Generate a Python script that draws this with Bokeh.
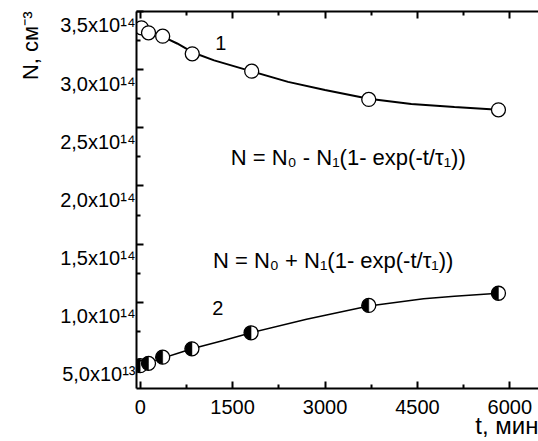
import math
from bokeh.plotting import figure
from bokeh.models import FixedTicker, LinearAxis, Label, Range1d, Title
from bokeh.embed import file_html
from bokeh.resources import INLINE

# ---- data ----
t1 = [20, 135, 365, 845, 1810, 3710, 5815]
n1 = [3.36e14, 3.317e14, 3.288e14, 3.136e14, 2.987e14, 2.744e14, 2.655e14]
t2 = [0, 135, 365, 840, 1800, 3710, 5815]
n2 = [0.455e14, 0.475e14, 0.528e14, 0.600e14, 0.738e14, 0.973e14, 1.078e14]

fit1_t = [20, 200, 400, 600, 845, 1200, 1810, 2400, 3000, 3710, 4400, 5100, 5815]
fit1_n = [3.355e14, 3.32e14, 3.275e14, 3.225e14, 3.15e14, 3.08e14, 2.985e14,
          2.895e14, 2.825e14, 2.75e14, 2.705e14, 2.678e14, 2.655e14]
fit2_t = [0, 135, 365, 600, 840, 1350, 1800, 2700, 3710, 4600, 5100, 5815]
fit2_n = [0.455e14, 0.475e14, 0.52e14, 0.56e14, 0.60e14, 0.672e14, 0.738e14,
          0.855e14, 0.968e14, 1.03e14, 1.052e14, 1.078e14]

x_ticks = [0, 1500, 3000, 4500, 6000]
x_minor = [750, 2250, 3750, 5250]
y_ticks = [0.5e14, 1.0e14, 1.5e14, 2.0e14, 2.5e14, 3.0e14, 3.5e14]
y_minor = [0.75e14, 1.25e14, 1.75e14, 2.25e14, 2.75e14, 3.25e14]
y_tick_labels = ["5,0x10¹³", "1,0x10¹⁴", "1,5x10¹⁴", "2,0x10¹⁴",
                 "2,5x10¹⁴", "3,0x10¹⁴", "3,5x10¹⁴"]

FONT = "Liberation Sans"
Y0, Y1 = 0.259e14, 3.5e14
LABEL_SHIFT = 0.12e14   # tick labels sit a little below their ticks

p = figure(width=538, height=441,
           x_range=Range1d(-60, 6465), y_range=Range1d(Y0, Y1),
           output_backend="svg", toolbar_location=None,
           min_border_left=133, min_border_right=0,
           min_border_top=11, min_border_bottom=53)
p.grid.visible = False
p.outline_line_color = None
p.background_fill_color = "white"
p.border_fill_color = "white"
p.extra_y_ranges = {"lab": Range1d(Y0 + LABEL_SHIFT, Y1 + LABEL_SHIFT)}

def style_axis(ax):
    ax.axis_line_width = 2
    ax.major_tick_in = 7
    ax.major_tick_out = 0
    ax.minor_tick_in = 4
    ax.minor_tick_out = 0
    ax.major_tick_line_width = 2
    ax.minor_tick_line_width = 2
    ax.major_label_text_font = FONT
    ax.major_label_text_font_size = "20px"
    ax.major_label_text_color = "black"
    ax.axis_line_color = "black"
    ax.major_tick_line_color = "black"
    ax.minor_tick_line_color = "black"

xax = p.xaxis[0]
xax.ticker = FixedTicker(ticks=x_ticks, minor_ticks=x_minor)
style_axis(xax)
xax.major_label_standoff = 11

# left axis: line and ticks only
yax = p.yaxis[0]
yax.ticker = FixedTicker(ticks=y_ticks, minor_ticks=y_minor)
style_axis(yax)
yax.major_label_overrides = {v: "" for v in y_ticks}
yax.major_label_standoff = 0

# left labels (slightly lowered, as in the original)
ylab = LinearAxis(y_range_name="lab", ticker=FixedTicker(ticks=y_ticks, minor_ticks=[]))
style_axis(ylab)
ylab.axis_line_color = None
ylab.major_tick_line_color = None
ylab.minor_tick_line_color = None
ylab.major_label_overrides = {v: s for v, s in zip(y_ticks, y_tick_labels)}
ylab.major_label_standoff = 1
p.add_layout(ylab, "left")

# top frame line with inner ticks
top = LinearAxis(ticker=FixedTicker(ticks=x_ticks, minor_ticks=x_minor))
style_axis(top)
top.major_label_overrides = {v: "" for v in x_ticks}
top.major_label_standoff = 0
p.add_layout(top, "above")

# fit curves
p.line(fit1_t, fit1_n, line_color="black", line_width=2)
p.line(fit2_t, fit2_n, line_color="black", line_width=1.5)

# series 1: open circles
p.scatter(t1, n1, marker="circle", size=14, fill_color="white",
          line_color="black", line_width=1.3)
# series 2: half-filled circles
p.scatter(t2, n2, marker="circle", size=14, fill_color="white",
          line_color="black", line_width=1.3)
p.wedge(t2, n2, radius=6.8, radius_units="screen",
        start_angle=math.pi / 2, end_angle=3 * math.pi / 2,
        fill_color="black", line_color="black", line_width=0.5)

def lab(x, y, text, size="20px", align="left", baseline="middle"):
    p.add_layout(Label(x=x, y=y, text=text, text_font=FONT, text_font_size=size,
                       text_align=align, text_baseline=baseline,
                       text_color="black"))

lab(1310, 3.225e14, "1", align="center")
lab(1261, 0.947e14, "2", align="center")
lab(1470, 2.245e14, "N = N₀ - N₁(1- exp(-t/τ₁))", size="22px")
lab(1181, 1.359e14, "N = N₀ + N₁(1- exp(-t/τ₁))", size="22px")

p.add_layout(Title(text="N, см⁻³", align="right", text_font=FONT,
                   text_font_size="22px", text_font_style="normal",
                   text_color="black", standoff=30), "left")
p.add_layout(Title(text="t, мин", align="right", text_font=FONT,
                   text_font_size="24px", text_font_style="normal",
                   text_color="black", standoff=-13), "below")

open("out.html", "w").write(file_html(p, INLINE))
